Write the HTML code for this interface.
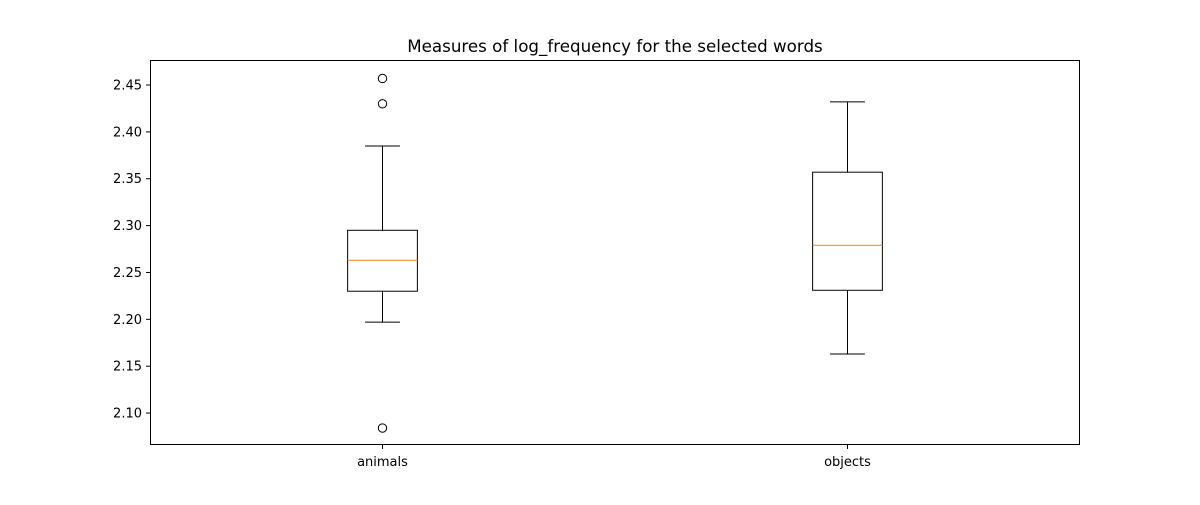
<!DOCTYPE html>
<html><head><meta charset="utf-8"><style>
body{margin:0;background:#fff;}
text{font-family:"DejaVu Sans","Liberation Sans",sans-serif;}
</style></head><body>
<svg id="chart" width="1200" height="500" xmlns="http://www.w3.org/2000/svg">
<rect width="1200" height="500" fill="#fff"/>
<text x="615" y="52" text-anchor="middle" font-size="16.7">Measures of log_frequency for the selected words</text>
<g id="plot"></g>
<rect x="150.5" y="60.5" width="929" height="384" fill="none" stroke="#000" stroke-width="1"/>
</svg>
<script>
const categories = ["animals","objects"];
const whiskerLow = [2.197, 2.163];
const q1 = [2.230, 2.231];
const medians = [2.263, 2.279];
const q3 = [2.295, 2.357];
const whiskerHigh = [2.385, 2.432];
const outliers = [[2.457, 2.430, 2.084], []];
const yTicks = [2.10,2.15,2.20,2.25,2.30,2.35,2.40,2.45];

const L=150,R=1080,T=60,B=445,yMin=2.0659,yMax=2.4767;
const xs=v=>L+(v-0.5)/2*(R-L);
const ys=v=>B-(v-yMin)/(yMax-yMin)*(B-T);
const NS="http://www.w3.org/2000/svg";
const g=document.getElementById('plot');
function mk(tag,attrs,parent){const e=document.createElementNS(NS,tag);for(const k in attrs)e.setAttribute(k,attrs[k]);(parent||g).appendChild(e);return e;}

yTicks.forEach(t=>{
  const y=ys(t);
  const tk=mk('line',{x1:L-4,x2:L,y1:y,y2:y,stroke:'#000'});
  
  
  const lb=mk('text',{x:L-8,y:y+4.5,'text-anchor':'end','font-size':'13'});
  lb.textContent=t.toFixed(2);
  
  
});

const bw=0.15*(R-L)/2;
categories.forEach((c,i)=>{
  const x=xs(i+1);
  const grp=mk('g',{});
  
  
  mk('line',{x1:x,x2:x,y1:ys(q3[i]),y2:ys(whiskerHigh[i]),stroke:'#000'},grp);
  mk('line',{x1:x,x2:x,y1:ys(q1[i]),y2:ys(whiskerLow[i]),stroke:'#000'},grp);
  mk('line',{x1:x-bw/4,x2:x+bw/4,y1:ys(whiskerHigh[i]),y2:ys(whiskerHigh[i]),stroke:'#000'},grp);
  mk('line',{x1:x-bw/4,x2:x+bw/4,y1:ys(whiskerLow[i]),y2:ys(whiskerLow[i]),stroke:'#000'},grp);
  mk('rect',{x:x-bw/2,y:ys(q3[i]),width:bw,height:ys(q1[i])-ys(q3[i]),fill:'none',stroke:'#000'},grp);
  mk('line',{x1:x-bw/2,x2:x+bw/2,y1:ys(medians[i]),y2:ys(medians[i]),stroke:'#ff7f0e'},grp);
  outliers[i].forEach(o=>{
    const p=mk('circle',{cx:x,cy:ys(o),r:4.2,fill:'none',stroke:'#000'},grp);
    
    
  });
  mk('line',{x1:x,x2:x,y1:B,y2:B+4,stroke:'#000'});
  const lb=mk('text',{x:x,y:B+21,'text-anchor':'middle','font-size':'13'});
  lb.textContent=c;
  
  
});
</script>
</body></html>
